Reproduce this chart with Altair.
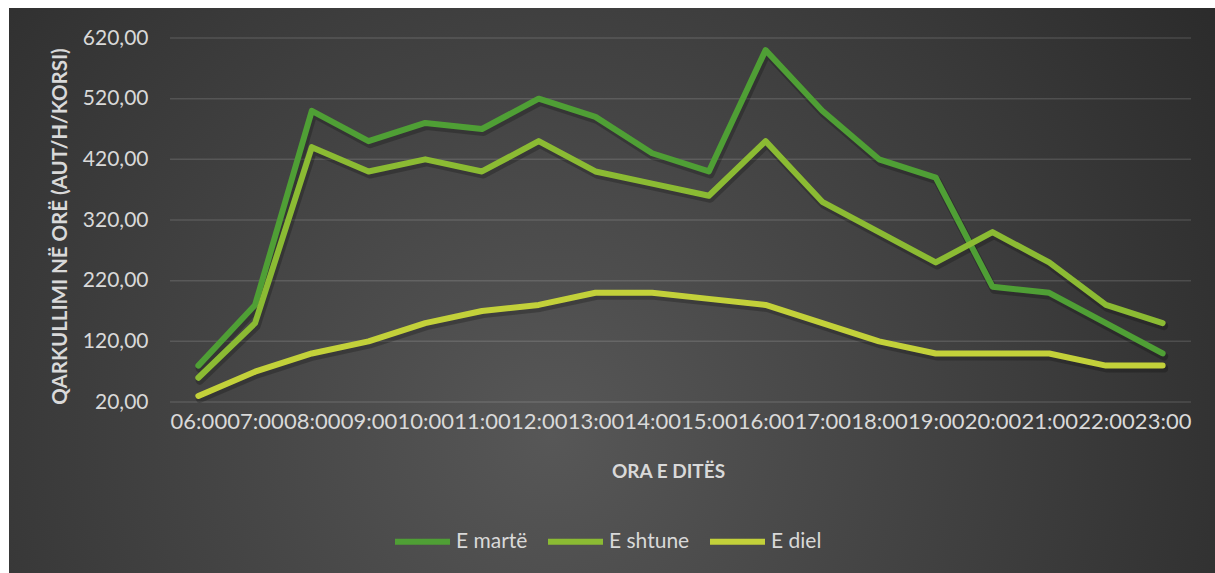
import altair as alt
import pandas as pd

hours = ["06:00", "07:00", "08:00", "09:00", "10:00", "11:00", "12:00", "13:00", "14:00",
         "15:00", "16:00", "17:00", "18:00", "19:00", "20:00", "21:00", "22:00", "23:00"]
series_names = ["E martë", "E shtune", "E diel"]
marte = [80, 180, 500, 450, 480, 470, 520, 490, 430, 400, 600, 500, 420, 390, 210, 200, 150, 100]
shtune = [60, 150, 440, 400, 420, 400, 450, 400, 380, 360, 450, 350, 300, 250, 300, 250, 180, 150]
diel = [30, 70, 100, 120, 150, 170, 180, 200, 200, 190, 180, 150, 120, 100, 100, 100, 80, 80]
colors = ["#4f9f35", "#8bbb33", "#c3d13a"]
y_ticks = [20, 120, 220, 320, 420, 520, 620]

rows = []
for name, vals in zip(series_names, [marte, shtune, diel]):
    for h, v in zip(hours, vals):
        rows.append({"hour": h, "series": name, "value": v})
df = pd.DataFrame(rows)

W, H = 1021, 364
PL, PT, PR, PB = 170, 38, 24, 171
FONT = "Lato"
TXT = "#d9d9d9"

x_enc = alt.X(
    "hour:N", sort=hours, scale=alt.Scale(type="point", padding=0.5),
    axis=alt.Axis(title="ORA E DITËS", labelAngle=0, labelOverlap=False,
                  labelFont=FONT, labelFontSize=22, labelColor=TXT, labelPadding=9,
                  ticks=False, domain=False, grid=False, zindex=1,
                  titleFont=FONT, titleFontSize=19, titleFontWeight="bold",
                  titleColor=TXT, titleX=498, titleY=69, titleBaseline="middle"),
)
y_enc = alt.Y(
    "value:Q", scale=alt.Scale(domain=[20, 620], nice=False, zero=False),
    axis=alt.Axis(title="QARKULLIMI NË ORË (AUT/H/KORSI)", values=y_ticks,
                  labelExpr="replace(format(datum.value, '.2f'), '.', ',')",
                  labelFont=FONT, labelFontSize=21, labelColor=TXT, labelPadding=22,
                  ticks=False, domain=False, grid=False, zindex=1,
                  titleFont=FONT, titleFontSize=20.5, titleFontWeight="bold",
                  titleColor=TXT, titleX=60 - PL, titleY=H / 2 + 6,
                  titleAngle=270, titleAlign="center", titleBaseline="middle"),
)

bg = alt.Chart(pd.DataFrame({"k": [0]})).mark_rect(
    color={
        "gradient": "radial",
        "x1": 0.45, "y1": 0.62, "r1": 0,
        "x2": 0.45, "y2": 0.62, "r2": 0.75,
        "stops": [
            {"offset": 0, "color": "#575757"},
            {"offset": 1, "color": "#252525"},
        ],
    },
    strokeWidth=0,
).encode(
    x=alt.value(9 - PL), x2=alt.value(1215 - PL),
    y=alt.value(8 - PT), y2=alt.value(573 - PT),
)

grid = alt.Chart(pd.DataFrame({"value": y_ticks})).mark_rule(
    color="#ffffff", opacity=0.13, strokeWidth=1.5
).encode(y=y_enc)

shadow = alt.Chart(df).mark_line(
    strokeWidth=8, strokeJoin="round", strokeCap="round",
    color="#000000", opacity=0.22, xOffset=1.5, yOffset=3,
).encode(x=x_enc, y=y_enc, detail="series:N")

lines = alt.Chart(df).mark_line(strokeWidth=6, strokeJoin="round", strokeCap="round").encode(
    x=x_enc,
    y=y_enc,
    color=alt.Color("series:N", sort=series_names,
                    scale=alt.Scale(domain=series_names, range=colors),
                    legend=alt.Legend(title=None, orient="none", direction="horizontal",
                                      legendX=222, legendY=473,
                                      symbolType="stroke", symbolSize=3025,
                                      symbolStrokeWidth=6, labelOffset=3,
                                      columnPadding=8,
                                      labelFont=FONT, labelFontSize=21, labelColor=TXT)),
    order=alt.Order("series:N"),
)

chart = alt.layer(bg, grid, shadow, lines).properties(
    width=W, height=H,
    autosize=alt.AutoSizeParams(type="none"),
    padding={"left": PL, "top": PT, "right": PR, "bottom": PB},
).configure(background="white").configure_view(stroke=None)

chart.save("out.html", embed_options={"renderer": "svg", "actions": False})
